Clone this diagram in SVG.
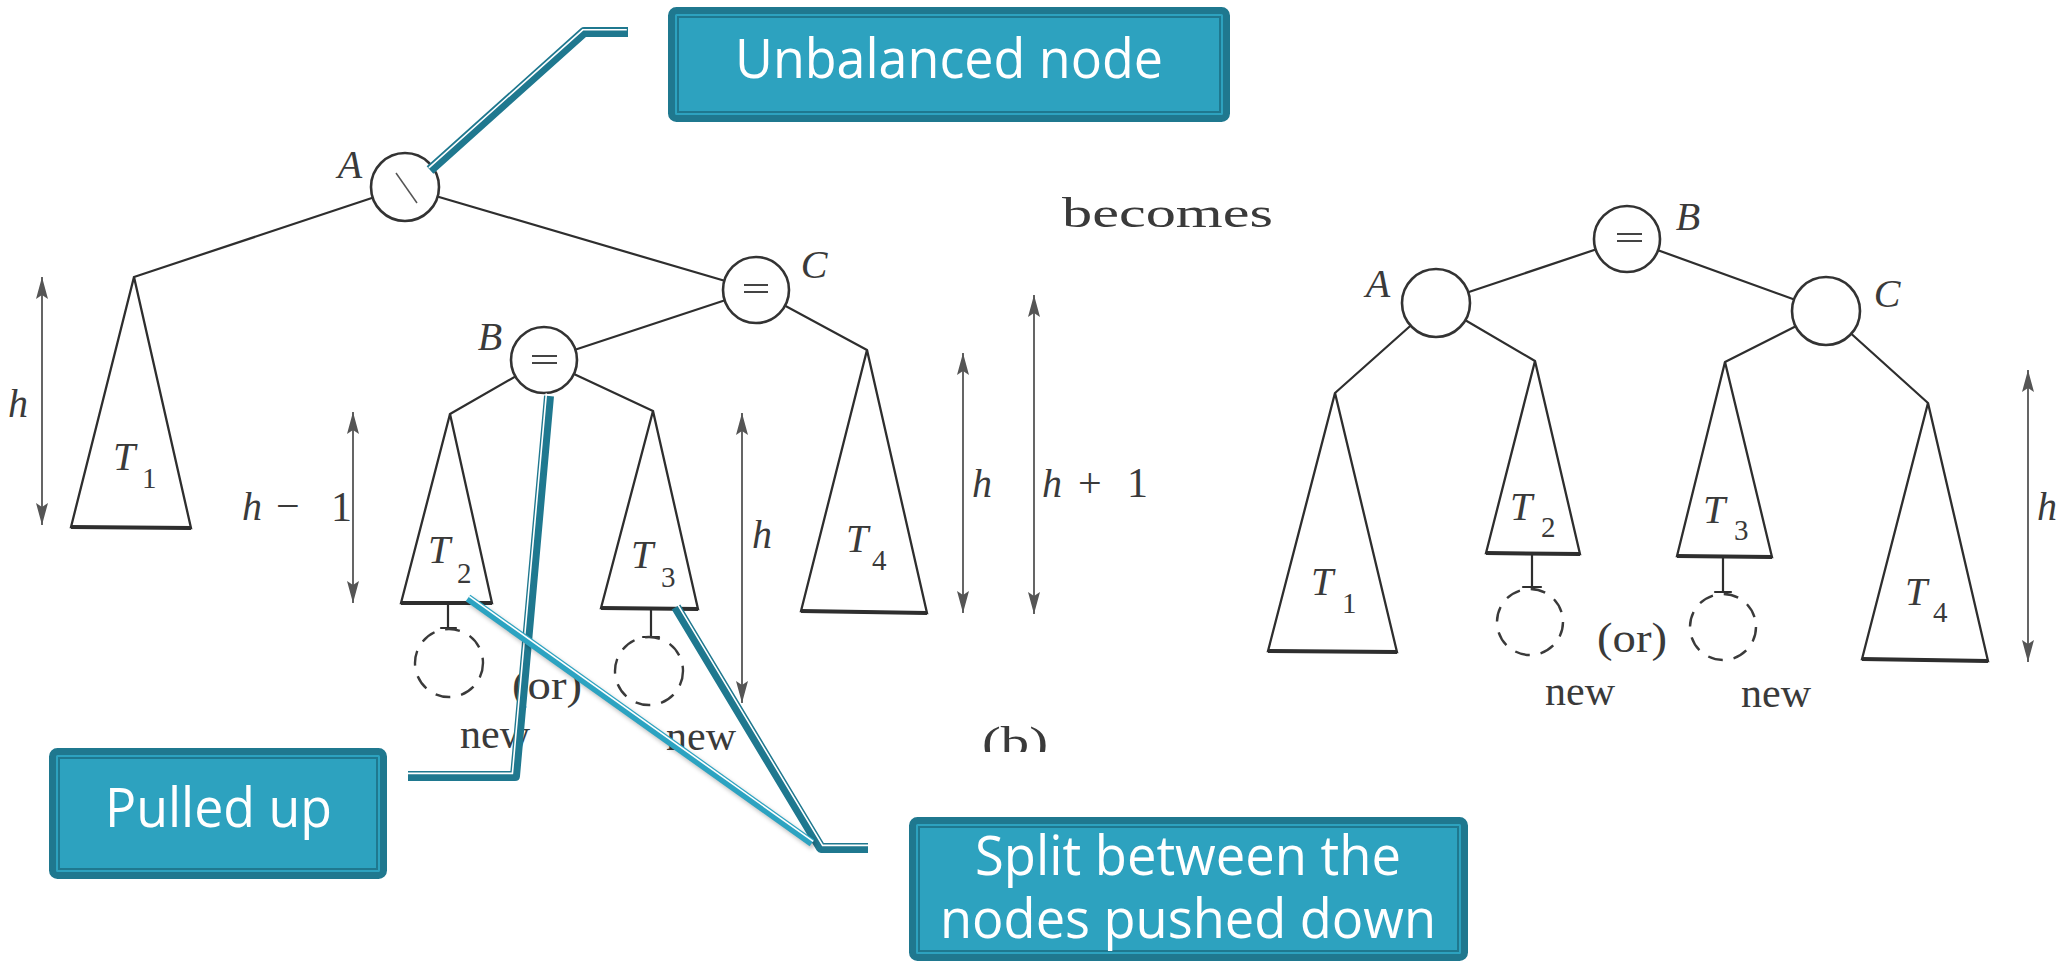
<svg xmlns="http://www.w3.org/2000/svg" width="2065" height="964" viewBox="0 0 2065 964">
<defs>
<style>
.ln{stroke:#2e2e2e;stroke-width:2.2;fill:none;stroke-linecap:round}
.tri{stroke:#2e2e2e;stroke-width:2.3;fill:none;stroke-linejoin:miter}
.base{stroke:#2e2e2e;stroke-width:4;fill:none}
.nd{fill:#fff;stroke:#333;stroke-width:2.6}
.dash{fill:none;stroke:#3a3a3a;stroke-width:2.4;stroke-dasharray:15 11}
.eq{stroke:#444;stroke-width:2}
.dim{stroke:#555;stroke-width:1.8;marker-start:url(#ah);marker-end:url(#ah)}
.lbl{font-family:"Liberation Serif",serif;font-style:italic;font-size:40px;fill:#3a3a3a}
.sub{font-family:"Liberation Serif",serif;font-size:29px;fill:#3a3a3a}
.txt{font-family:"Liberation Serif",serif;font-size:42px;fill:#3a3a3a}
.box{fill:#2da2bf;stroke:#1f788f;stroke-width:7}
.boxin{fill:none;stroke:#1f788f;stroke-width:2}
.btxt{font-family:"Open Sans","Noto Sans",sans-serif;font-size:54px;fill:#fff}
.cdark{stroke:#1f788f;fill:none;stroke-width:10;stroke-linejoin:round}
.clight{stroke:#2ca3c1;fill:none;stroke-width:8}
.cwhite{stroke:#fff;fill:none;stroke-width:1.6}
</style>
<marker id="ah" markerUnits="userSpaceOnUse" markerWidth="24" markerHeight="14" refX="22" refY="7" orient="auto-start-reverse"><path d="M0,1 L22,7 L0,13 L4,7 z" fill="#555"/></marker>
<clipPath id="scan"><rect x="0" y="0" width="1100" height="752"/></clipPath>
<filter id="blur" x="-10%" y="-10%" width="120%" height="120%"><feGaussianBlur stdDeviation="2"/></filter>
</defs>
<rect width="2065" height="964" fill="#fff"/>

<!-- tree edges -->
<g id="tree-edges" class="ln">
<line x1="405" y1="187" x2="134" y2="277"/>
<line x1="405" y1="187" x2="756" y2="290"/>
<line x1="756" y1="290" x2="544" y2="360"/>
<line x1="756" y1="290" x2="867" y2="350"/>
<line x1="544" y1="360" x2="450" y2="414"/>
<line x1="544" y1="360" x2="653" y2="411"/>
<line x1="1627" y1="239" x2="1436" y2="303"/>
<line x1="1627" y1="239" x2="1826" y2="311"/>
<line x1="1436" y1="303" x2="1335" y2="393"/>
<line x1="1436" y1="303" x2="1535" y2="361"/>
<line x1="1826" y1="311" x2="1725" y2="362"/>
<line x1="1826" y1="311" x2="1928" y2="403"/>
<line x1="448" y1="604" x2="448" y2="628"/><line x1="441" y1="628" x2="456" y2="628"/>
<line x1="651" y1="609" x2="651" y2="637"/><line x1="643" y1="637" x2="659" y2="637"/>
<line x1="1532" y1="554" x2="1532" y2="587"/><line x1="1523" y1="587" x2="1541" y2="587"/>
<line x1="1723" y1="557" x2="1723" y2="592"/><line x1="1715" y1="592" x2="1731" y2="592"/>
</g>

<!-- left tree nodes -->
<g id="left-A"><circle class="nd" cx="405" cy="187" r="34"/><line x1="396" y1="173" x2="417" y2="203" stroke="#555" stroke-width="1.5"/><text class="lbl" x="350" y="178" text-anchor="middle">A</text></g>
<g id="left-C"><circle class="nd" cx="756" cy="290" r="33"/><line class="eq" x1="744" y1="285" x2="768" y2="285"/><line class="eq" x1="744" y1="292" x2="768" y2="292"/><text class="lbl" x="814" y="278" text-anchor="middle">C</text></g>
<g id="left-B"><circle class="nd" cx="544" cy="360" r="33"/><line class="eq" x1="532" y1="356" x2="557" y2="356"/><line class="eq" x1="532" y1="363" x2="557" y2="363"/><text class="lbl" x="490" y="350" text-anchor="middle">B</text></g>
<g id="left-T1"><polygon class="tri" points="134,277 71,527 191,528"/><line class="base" x1="71" y1="527" x2="191" y2="528"/><text class="lbl" x="113" y="470">T</text><text class="sub" x="142" y="488">1</text></g>
<g id="left-T2"><polygon class="tri" points="450,414 401,603 492,603"/><line class="base" x1="401" y1="603" x2="492" y2="603"/><text class="lbl" x="428" y="563">T</text><text class="sub" x="457" y="583">2</text></g>
<g id="left-T3"><polygon class="tri" points="653,411 601,608 698,609"/><line class="base" x1="601" y1="608" x2="698" y2="609"/><text class="lbl" x="631" y="568">T</text><text class="sub" x="661" y="587">3</text></g>
<g id="left-T4"><polygon class="tri" points="867,350 801,611 927,613"/><line class="base" x1="801" y1="611" x2="927" y2="613"/><text class="lbl" x="846" y="552">T</text><text class="sub" x="872" y="570">4</text></g>
<g id="left-new2"><circle class="dash" cx="449" cy="663" r="34"/><text class="txt" x="460" y="748" textLength="70" lengthAdjust="spacingAndGlyphs">new</text></g>
<g id="left-new3"><circle class="dash" cx="649" cy="671" r="34"/><text class="txt" x="666" y="750" textLength="70" lengthAdjust="spacingAndGlyphs" clip-path="url(#scan)">new</text></g>
<text class="txt" x="512" y="699" textLength="70" lengthAdjust="spacingAndGlyphs">(or)</text>
<text class="txt" x="982" y="756" font-size="57" textLength="66" lengthAdjust="spacingAndGlyphs" clip-path="url(#scan)">(b)</text>
<text class="txt" x="1062" y="227" font-size="64" textLength="211" lengthAdjust="spacingAndGlyphs">becomes</text>

<!-- dimensions -->
<g id="dimensions">
<line class="dim" x1="42" y1="277" x2="42" y2="525"/>
<line class="dim" x1="353" y1="412" x2="353" y2="603"/>
<line class="dim" x1="742" y1="413" x2="742" y2="703"/>
<line class="dim" x1="963" y1="353" x2="963" y2="613"/>
<line class="dim" x1="1034" y1="295" x2="1034" y2="614"/>
<line class="dim" x1="2028" y1="370" x2="2028" y2="662"/>
<text class="lbl" x="8" y="417">h</text>
<text class="lbl" x="242" y="520">h</text><text class="txt" x="276" y="520" font-size="48">−</text><text class="txt" x="331" y="521">1</text>
<text class="lbl" x="752" y="548">h</text>
<text class="lbl" x="972" y="497">h</text>
<text class="lbl" x="1042" y="497">h</text><text class="txt" x="1078" y="497" font-size="46">+</text><text class="txt" x="1127" y="497">1</text>
<text class="lbl" x="2037" y="520">h</text>
</g>

<!-- right tree nodes -->
<g id="right-B"><circle class="nd" cx="1627" cy="239" r="33"/><line class="eq" x1="1617" y1="234" x2="1642" y2="234"/><line class="eq" x1="1617" y1="241" x2="1642" y2="241"/><text class="lbl" x="1688" y="230" text-anchor="middle">B</text></g>
<g id="right-A"><circle class="nd" cx="1436" cy="303" r="34"/><text class="lbl" x="1378" y="297" text-anchor="middle">A</text></g>
<g id="right-C"><circle class="nd" cx="1826" cy="311" r="34"/><text class="lbl" x="1887" y="307" text-anchor="middle">C</text></g>
<g id="right-T1"><polygon class="tri" points="1335,393 1268,651 1397,652"/><line class="base" x1="1268" y1="651" x2="1397" y2="652"/><text class="lbl" x="1311" y="595">T</text><text class="sub" x="1342" y="613">1</text></g>
<g id="right-T2"><polygon class="tri" points="1535,361 1486,553 1580,554"/><line class="base" x1="1486" y1="553" x2="1580" y2="554"/><text class="lbl" x="1510" y="520">T</text><text class="sub" x="1541" y="537">2</text></g>
<g id="right-T3"><polygon class="tri" points="1725,362 1677,556 1772,557"/><line class="base" x1="1677" y1="556" x2="1772" y2="557"/><text class="lbl" x="1703" y="523">T</text><text class="sub" x="1734" y="540">3</text></g>
<g id="right-T4"><polygon class="tri" points="1928,403 1862,659 1988,661"/><line class="base" x1="1862" y1="659" x2="1988" y2="661"/><text class="lbl" x="1905" y="605">T</text><text class="sub" x="1933" y="622">4</text></g>
<g id="right-new2"><circle class="dash" cx="1530" cy="622" r="33"/><text class="txt" x="1545" y="705" textLength="70" lengthAdjust="spacingAndGlyphs">new</text></g>
<g id="right-new3"><circle class="dash" cx="1723" cy="627" r="33"/><text class="txt" x="1741" y="707" textLength="70" lengthAdjust="spacingAndGlyphs">new</text></g>
<text class="txt" x="1597" y="652" textLength="70" lengthAdjust="spacingAndGlyphs">(or)</text>

<!-- callout connectors -->
<g id="callout-connectors">
<path class="cdark" d="M430 170 L584 32 L628 32"/>
<path class="cwhite" d="M430 170 L584 32 L628 32" transform="translate(-1.2,-2.2)"/>
<path class="cdark" d="M549 396 L515 776 L408 776"/>
<path class="cwhite" d="M549 396 L515 776 L408 776" transform="translate(-2.6,-2.6)"/>
<path class="cdark" d="M676 607 L821 848 L868 848"/>
<path class="cwhite" d="M676 607 L821 848 L868 848" transform="translate(1.6,-2.6)"/>
<line x1="470" y1="601" x2="814" y2="846" stroke="#000" stroke-opacity="0.25" stroke-width="8" filter="url(#blur)"/>
<line class="clight" x1="468" y1="598" x2="812" y2="843"/>
<line class="cwhite" x1="469.2" y1="596.4" x2="813.2" y2="841.4"/>
</g>

<!-- callout boxes -->
<g id="box-unbalanced"><rect class="box" x="671.5" y="10.5" width="555" height="108" rx="5"/><rect class="boxin" x="678" y="17" width="542" height="95"/><text class="btxt" x="735" y="78" textLength="428" lengthAdjust="spacingAndGlyphs">Unbalanced node</text></g>
<g id="box-pulled"><rect class="box" x="52.5" y="751.5" width="331" height="124" rx="5"/><rect class="boxin" x="59" y="758" width="318" height="111"/><text class="btxt" x="105" y="827" textLength="227" lengthAdjust="spacingAndGlyphs">Pulled up</text></g>
<g id="box-split"><rect class="box" x="912.5" y="820.5" width="552" height="137" rx="5"/><rect class="boxin" x="919" y="827" width="539" height="124"/><text class="btxt" x="975" y="875" textLength="426" lengthAdjust="spacingAndGlyphs">Split between the</text><text class="btxt" x="940" y="938" textLength="496" lengthAdjust="spacingAndGlyphs">nodes pushed down</text></g>
</svg>
